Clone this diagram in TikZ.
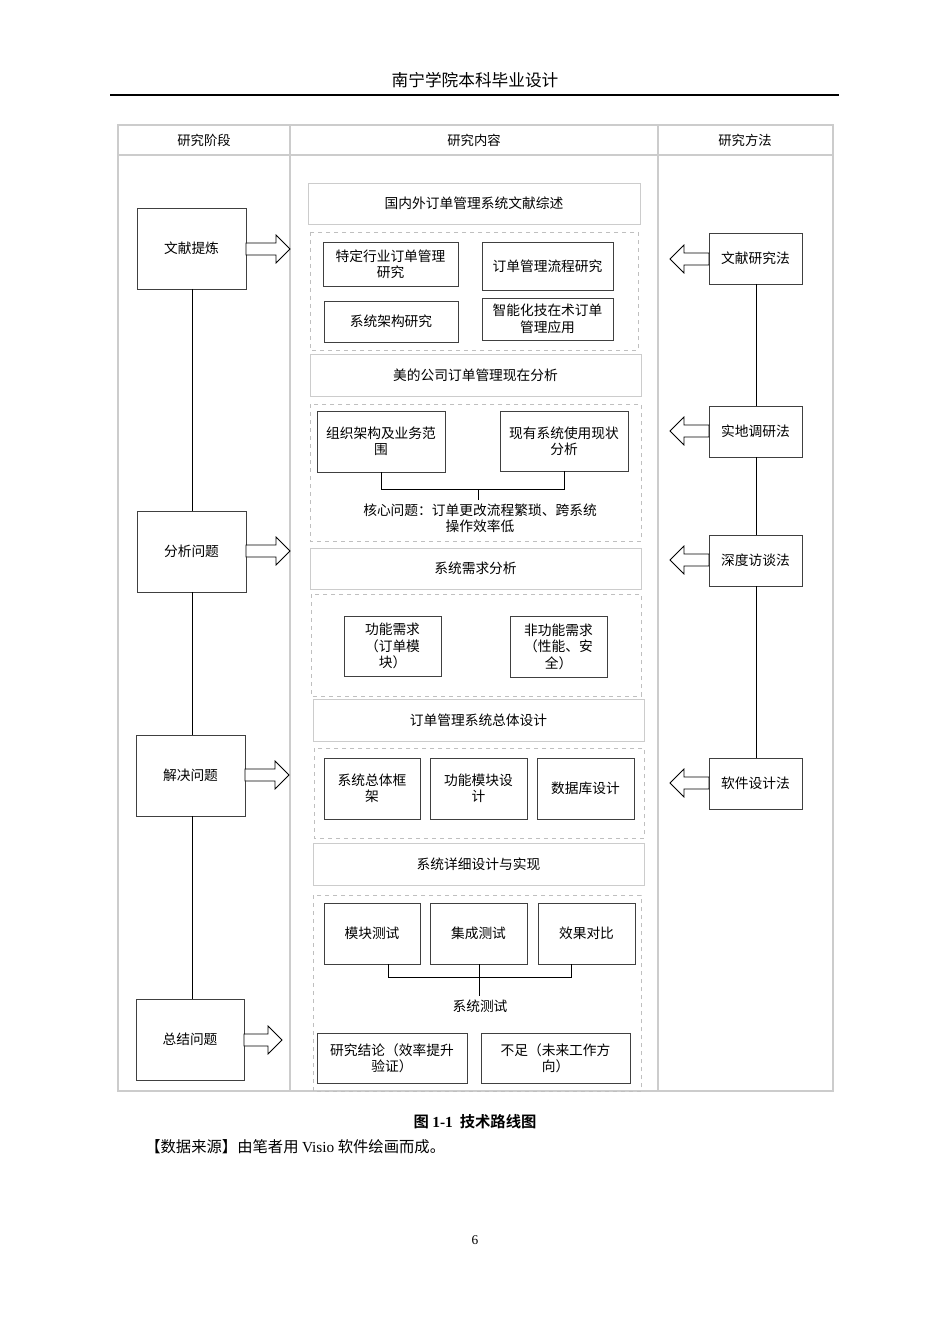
\documentclass[tikz,border=0pt]{standalone}
\usepackage{fontspec}
\setmainfont{Liberation Serif}
\newfontfamily\cjk{Noto Sans CJK SC}
\newfontfamily\cjkb{Noto Sans CJK SC}[BoldFont={* Bold}]
\begin{document}
\begin{tikzpicture}[x=0.75pt,y=-0.75pt,
  box/.style={draw=black!75,line width=0.6pt,align=center,font=\cjk\fontsize{10.3}{12.3}\selectfont,inner sep=1pt},
  ttl/.style={draw=black!20,line width=0.6pt,font=\cjk\fontsize{10.3}{12.3}\selectfont},
  dsh/.style={draw=black!25,dashed,line width=0.6pt},
  grid/.style={draw=black!20,line width=1pt},
  ln/.style={draw=black,line width=0.7pt}]
\useasboundingbox (0,0) rectangle (950,1344);
\fill[white] (0,0) rectangle (950,1344);
% page header
\node[font=\cjk\fontsize{12.5}{14}\selectfont] (hd) at (475,80) {南宁学院本科毕业设计};
\draw[line width=0.8pt] (110,95) -- (839,95);
% table grid
\draw[grid] (118,125) rectangle (833,1091);
\draw[grid] (118,155) -- (833,155);
\draw[grid] (290,125) -- (290,1091);
\draw[grid] (658,125) -- (658,1091);
\node[font=\cjk\fontsize{10}{11}\selectfont] at (204,140) {研究阶段};
\node[font=\cjk\fontsize{10}{11}\selectfont] at (474,140) {研究内容};
\node[font=\cjk\fontsize{10}{11}\selectfont] at (745,140) {研究方法};
% boxes
\newcommand\bx[6]{\draw[box] (#2,#3) rectangle (#4,#5); \node[box,draw=none] (#1) at ({(#2+#4)/2},{(#3+#5)/2}) {#6};}
\bx{L1}{137}{208}{246}{289}{文献提炼}
\bx{L2}{137}{511}{246}{592}{分析问题}
\bx{L3}{136}{735}{245}{816}{解决问题}
\bx{L4}{136}{999}{244}{1080}{总结问题}
\draw[ln] (192,289) -- (192,511) (192,592) -- (192,735) (192,816) -- (192,999);
\bx{R1}{709}{233}{802}{284}{文献研究法}
\bx{R2}{709}{406}{802}{457}{实地调研法}
\bx{R3}{709}{535}{802}{586}{深度访谈法}
\bx{R4}{709}{758}{802}{809}{软件设计法}
\draw[ln] (756,284) -- (756,406) (756,457) -- (756,535) (756,586) -- (756,758);
% block arrows
\newcommand\rarr[3]{\draw[line width=0.6pt,fill=white] (#1,#3-6) -- (#2-14,#3-6) -- (#2-14,#3-14) -- (#2,#3) -- (#2-14,#3+14) -- (#2-14,#3+6) -- (#1,#3+6) -- cycle;}
\newcommand\larr[3]{\draw[line width=0.6pt,fill=white] (#1,#3-6) -- (#2+14,#3-6) -- (#2+14,#3-14) -- (#2,#3) -- (#2+14,#3+14) -- (#2+14,#3+6) -- (#1,#3+6) -- cycle;}
\rarr{246}{290}{249}
\rarr{246}{290}{551}
\rarr{245}{289}{775}
\rarr{244}{282}{1040}
\larr{709}{670}{259}
\larr{709}{670}{431}
\larr{709}{670}{560}
\larr{709}{670}{783}
% center
\newcommand\tb[6]{\draw[ttl] (#2,#3) rectangle (#4,#5); \node[font=\cjk\fontsize{10.3}{12.3}\selectfont] (#1) at ({(#2+#4)/2},{(#3+#5)/2}) {#6};}
\tb{T1}{308}{183}{640}{224}{国内外订单管理系统文献综述}
\draw[dsh] (310,232) rectangle (638,350);
\bx{A1}{323}{242}{458}{286}{特定行业订单管理\\研究}
\bx{A2}{482}{242}{613}{290}{订单管理流程研究}
\bx{A3}{324}{301}{458}{342}{系统架构研究}
\bx{A4}{482}{298}{613}{340}{智能化技在术订单\\管理应用}
\tb{T2}{310}{354}{641}{396}{美的公司订单管理现在分析}
\draw[dsh] (310,404) rectangle (641,541);
\bx{B1}{317}{411}{445}{472}{组织架构及业务范\\围}
\bx{B2}{500}{411}{628}{471}{现有系统使用现状\\分析}
\draw[line width=0.6pt] (381,472) -- (381,489) -- (564,489) -- (564,471) (478,489) -- (478,500);
\node[box,draw=none] (BC) at (480,518) {核心问题：订单更改流程繁琐、跨系统\\操作效率低};
\tb{T3}{310}{548}{641}{589}{系统需求分析}
\draw[dsh] (311,594) rectangle (641,696);
\bx{C1}{344}{616}{441}{676}{功能需求\\（订单模\\块）}
\bx{C2}{510}{616}{607}{677}{非功能需求\\（性能、安\\全）}
\tb{T4}{313}{699}{644}{741}{订单管理系统总体设计}
\draw[dsh] (314,748) rectangle (644,838);
\bx{D1}{324}{758}{420}{819}{系统总体框\\架}
\bx{D2}{430}{758}{527}{819}{功能模块设\\计}
\bx{D3}{537}{758}{634}{819}{数据库设计}
\tb{T5}{313}{843}{644}{885}{系统详细设计与实现}
\draw[dsh] (313,895) rectangle (641,1091);
\bx{E1}{324}{903}{420}{964}{模块测试}
\bx{E2}{430}{903}{527}{964}{集成测试}
\bx{E3}{538}{903}{635}{964}{效果对比}
\draw[line width=0.6pt] (388,964) -- (388,977) -- (571,977) -- (571,964) (479,964) -- (479,996);
\node[box,draw=none] (ET) at (480,1006) {系统测试};
\bx{F1}{317}{1033}{467}{1083}{研究结论（效率提升\\验证）}
\bx{F2}{481}{1033}{630}{1083}{不足（未来工作方\\向）}
% caption
\node[font=\cjkb\bfseries\fontsize{11.5}{13}\selectfont] (cap) at (475,1122) {图 {\rmfamily 1-1}\ \ 技术路线图};
\node[anchor=west,inner sep=0pt,font=\cjk\fontsize{11.5}{13}\selectfont] (src) at (145,1147) {【数据来源】由笔者用 {\rmfamily Visio} 软件绘画而成。};
\node[font=\fontsize{10}{12}\selectfont] (pg) at (475,1240) {6};
\end{tikzpicture}
\end{document}
